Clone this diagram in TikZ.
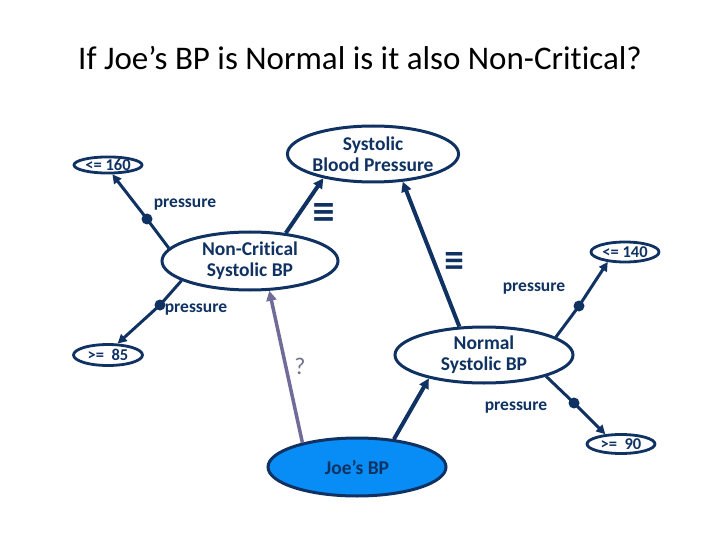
\documentclass[tikz,border=0pt]{standalone}
\usepackage{fontspec}
\setmainfont{Carlito}[Ligatures={NoCommon,NoRare}]
\newfontfamily\dvbfont{DejaVu Sans Bold}
\usetikzlibrary{shapes.geometric,arrows.meta}
\definecolor{navy}{RGB}{15,50,98}
\definecolor{joefill}{RGB}{8,140,245}
\definecolor{qline}{RGB}{112,108,152}
\definecolor{qtext}{RGB}{115,115,135}
\tikzset{
  bigell/.style={ellipse, draw=navy, line width=3pt, inner sep=0pt, text=navy, align=center,
    font=\bfseries\fontsize{19.5}{21}\selectfont},
  smallell/.style={ellipse, draw=navy, line width=2.8pt, inner sep=0pt, text=navy,
    font=\bfseries\fontsize{16.5}{17}\selectfont},
  conn/.style={draw=navy, line width=3pt, -{Triangle[length=9pt,width=9pt]}},
  thickconn/.style={conn, line width=4pt, -{Triangle[length=10pt,width=10pt]}},
  qconn/.style={draw=qline, line width=3.5pt, -{Triangle[length=10pt,width=10pt]}},
  dotn/.style={circle, fill=navy, inner sep=0pt, minimum size=11pt},
  lab/.style={text=navy, font=\bfseries\fontsize{17.5}{18}\selectfont},
  eqsign/.style={text=navy, inner sep=0pt}
}
\begin{document}
\begin{tikzpicture}[x=1pt,y=-1pt]
\useasboundingbox (0,0) rectangle (720,540);
\node[font=\fontsize{33}{35}\selectfont, text=black] (title) at (360,58) {If Joe’s BP is Normal is it also Non-Critical?};

\node[bigell, minimum width=170pt, minimum height=56pt] (sbp) at (373,154) {Systolic\\Blood Pressure};
\node[bigell, minimum width=176pt, minimum height=58pt] (nc) at (250,261) {Non-Critical\\Systolic BP};
\node[bigell, minimum width=178pt, minimum height=56pt] (normal) at (484,355) {Normal\\Systolic BP};
\node[bigell, fill=joefill, draw=navy, minimum width=178pt, minimum height=58pt] (joe) at (357,467) {Joe’s BP};

\node[smallell, minimum width=68pt, minimum height=16pt] (le160) at (108,165) {<= 160};
\node[smallell, minimum width=68pt, minimum height=20pt] (le140) at (625,252) {<= 140};
\node[smallell, minimum width=69pt, minimum height=21pt] (ge85) at (108,355) {>=\ \ 85};
\node[smallell, minimum width=68pt, minimum height=19pt] (ge90) at (621,444) {>=\ \ 90};

\coordinate (p1) at (147,219);
\coordinate (p2) at (160,305);
\coordinate (p3) at (579,306);
\coordinate (p4) at (574,403);

\draw[conn] (nc.171) -- (p1) -- (le160.295);
\draw[conn] (nc.196) -- (p2) -- (ge85.50);
\draw[conn] (normal.14.6) -- (p3) -- (le140.210);
\draw[conn] (normal.341) -- (p4) -- (ge90.148);
\draw[thickconn] (nc.38.7) -- (sbp.206.6);
\draw[thickconn] (normal.131.8) -- (sbp.317);
\draw[thickconn] (joe.37.6) -- (normal.203.2);
\draw[qconn] (joe.156.9) -- (nc.303.7);

\node[dotn] (d1) at (p1) {};
\node[dotn] (d2) at (p2) {};
\node[dotn] (d3) at (p3) {};
\node[dotn] (d4) at (p4) {};

\node[lab] (l1) at (185,205) {pressure};
\node[lab] (l2) at (196,310) {pressure};
\node[lab] (l3) at (534,289) {pressure};
\node[lab] (l4) at (516,408) {pressure};

\node[eqsign] (eq1) at (324,213) {\resizebox{25pt}{19pt}{\dvbfont ≡}};
\node[eqsign] (eq2) at (454,261) {\resizebox{22pt}{18pt}{\dvbfont ≡}};

\node[text=qtext, font=\fontsize{24}{26}\selectfont] (q) at (300,366) {?};
\end{tikzpicture}
\end{document}
